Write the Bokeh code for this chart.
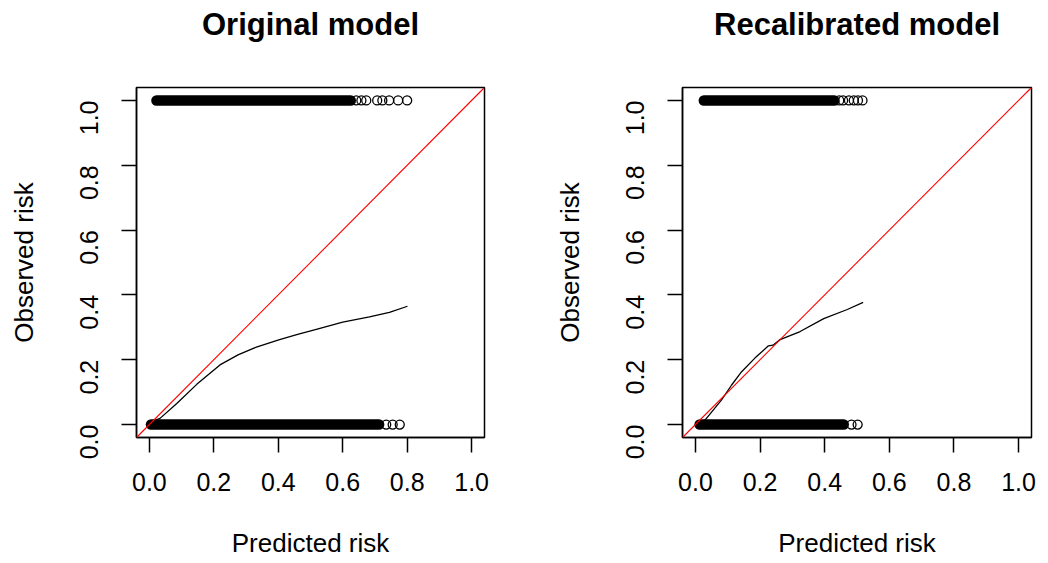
import math
from bokeh.plotting import figure
from bokeh.layouts import row
from bokeh.models import Range1d, FixedTicker, PrintfTickFormatter, Slope, Title
from bokeh.embed import file_html
from bokeh.resources import INLINE

# ---------------- data ----------------
ticks = [0.0, 0.2, 0.4, 0.6, 0.8, 1.0]
titles = ["Original model", "Recalibrated model"]
x_label = "Predicted risk"
y_label = "Observed risk"
ref_slope = 1.0
ref_intercept = 0.0

# dense bands of outcomes (start, end of predicted risk), y = outcome
orig_band_y = [1.0, 0.0]
orig_band_start = [0.022, 0.005]
orig_band_end = [0.625, 0.713]
orig_pts_x_event = [0.642, 0.658, 0.673, 0.707, 0.723, 0.744, 0.772, 0.800]
orig_pts_x_none = [0.735, 0.755, 0.777]

recal_band_y = [1.0, 0.0]
recal_band_start = [0.026, 0.013]
recal_band_end = [0.430, 0.459]
recal_pts_x_event = [0.445, 0.457, 0.475, 0.490, 0.503, 0.517]
recal_pts_x_none = [0.483, 0.502]

# smoothed calibration curves
orig_curve_x = [0.018, 0.033, 0.085, 0.147, 0.219, 0.275, 0.332, 0.404, 0.460, 0.518, 0.600, 0.683, 0.745, 0.801]
orig_curve_y = [0.014, 0.019, 0.065, 0.124, 0.184, 0.215, 0.239, 0.262, 0.278, 0.294, 0.316, 0.332, 0.346, 0.365]

recal_curve_x = [0.029, 0.034, 0.081, 0.112, 0.143, 0.184, 0.226, 0.240, 0.262, 0.324, 0.397, 0.470, 0.519]
recal_curve_y = [0.014, 0.019, 0.076, 0.122, 0.163, 0.205, 0.243, 0.245, 0.262, 0.287, 0.327, 0.355, 0.377]

FONT = "Liberation Sans"
X_LO, X_HI = -0.04, 1.04


def panel(title, band_y, band_start, band_end, pts_event, pts_none, cx, cy,
          border_right, frame_w):
    p = figure(frame_width=frame_w, frame_height=350,
               x_range=Range1d(X_LO, X_HI), y_range=Range1d(X_LO, X_HI),
               output_backend="svg", toolbar_location=None,
               min_border_left=136, min_border_right=border_right,
               min_border_top=87, min_border_bottom=124)
    p.xgrid.visible = False
    p.ygrid.visible = False
    p.outline_line_color = "black"
    p.outline_line_width = 1.5
    p.outline_line_alpha = 1.0
    p.background_fill_color = "white"
    p.border_fill_color = "white"

    # spacer between plot box and title (closest to the frame)
    p.add_layout(Title(text=" ", text_font_size="1px", standoff=39), "above")
    # main title (outermost)
    p.add_layout(Title(text=title, align="center", text_font=FONT,
                       text_font_size="31px", text_font_style="bold",
                       text_color="black", standoff=8), "above")

    for ax in (p.xaxis[0], p.yaxis[0]):
        ax.ticker = FixedTicker(ticks=ticks)
        ax.formatter = PrintfTickFormatter(format="%.1f")
        ax.major_tick_in = 0
        ax.major_tick_out = 15
        ax.minor_tick_in = 0
        ax.minor_tick_out = 0
        ax.major_tick_line_width = 1.5
        ax.major_tick_line_color = "black"
        ax.axis_line_color = "black"
        ax.axis_line_width = 1.5
        ax.major_label_text_font = FONT
        ax.major_label_text_font_size = "25px"
        ax.major_label_text_color = "black"
        ax.axis_label_text_font = FONT
        ax.axis_label_text_font_size = "26px"
        ax.axis_label_text_font_style = "normal"
        ax.axis_label_text_color = "black"
    p.xaxis.axis_label = x_label
    p.yaxis.axis_label = y_label
    p.xaxis.major_label_standoff = 20
    p.yaxis.major_label_standoff = 32
    p.yaxis.major_label_orientation = math.pi / 2
    p.xaxis.axis_label_standoff = 34
    p.yaxis.axis_label_standoff = 30

    # dense bands
    p.segment(x0=band_start, y0=band_y, x1=band_end, y1=band_y,
              line_color="black", line_width=10.5, line_cap="round")
    # isolated points
    p.scatter(x=pts_event, y=[1.0] * len(pts_event), marker="circle", size=9,
              fill_color=None, line_color="black", line_width=1.3)
    p.scatter(x=pts_none, y=[0.0] * len(pts_none), marker="circle", size=9,
              fill_color=None, line_color="black", line_width=1.3)
    # ideal line
    p.add_layout(Slope(gradient=ref_slope, y_intercept=ref_intercept,
                       line_color="red", line_width=1.1))
    # calibration curve
    p.line(x=cx, y=cy, line_color="black", line_width=1.3)
    return p


p1 = panel(titles[0], orig_band_y, orig_band_start, orig_band_end,
           orig_pts_x_event, orig_pts_x_none, orig_curve_x, orig_curve_y, 62, 348)
p2 = panel(titles[1], recal_band_y, recal_band_start, recal_band_end,
           recal_pts_x_event, recal_pts_x_none, recal_curve_x, recal_curve_y, 9, 349)

layout = row(p1, p2, spacing=0)
open("out.html", "w").write(file_html(layout, INLINE))
